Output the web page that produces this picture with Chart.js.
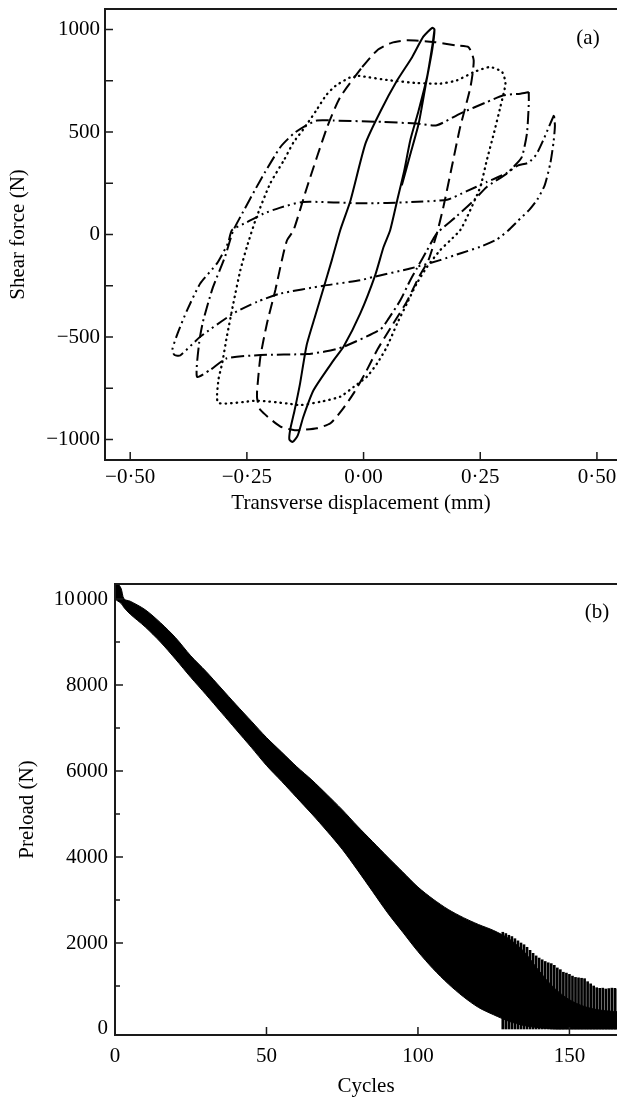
<!DOCTYPE html>
<html><head><meta charset="utf-8">
<script src="https://cdn.jsdelivr.net/npm/chart.js@4/dist/chart.umd.min.js"></script>
<style>
html,body{margin:0;padding:0;background:#fff;overflow:hidden;width:617px;height:1100px;}
#a{position:absolute;left:0;top:0;}
#b{position:absolute;left:0;top:540px;}
</style></head><body>
<canvas id="a" width="617" height="540"></canvas>
<canvas id="b" width="617" height="560"></canvas>
<script>
// ---------- Panel (a): hysteresis loops, [displacement mm, shear force N] ----------
const loopSolid = [[0.082,240],[0.100,390],[0.118,540],[0.134,740],[0.147,900],[0.152,1000],[0.147,1008],[0.128,965],[0.104,865],[0.072,752],[0.036,600],[0.004,443],[-0.028,166],[-0.050,21],[-0.068,-125],[-0.086,-263],[-0.104,-400],[-0.122,-540],[-0.136,-726],[-0.148,-860],[-0.157,-950],[-0.159,-1000],[-0.152,-1012],[-0.141,-980],[-0.129,-889],[-0.107,-759],[-0.064,-613],[-0.043,-548],[-0.007,-385],[0.025,-198],[0.043,-60],[0.057,21],[0.072,166],[0.087,310],[0.100,459],[0.118,605],[0.136,768],[0.148,931],[0.152,1000]];
const loopDashed = [[-0.003,817],[0.029,898],[0.060,935],[0.093,947],[0.150,939],[0.200,922],[0.225,914],[0.236,849],[0.229,719],[0.207,524],[0.189,329],[0.171,134],[0.157,5],[0.139,-125],[0.118,-210],[0.092,-330],[0.062,-440],[0.030,-560],[0.005,-670],[-0.020,-770],[-0.046,-856],[-0.071,-921],[-0.100,-945],[-0.136,-954],[-0.150,-954],[-0.178,-937],[-0.221,-856],[-0.228,-800],[-0.228,-759],[-0.221,-596],[-0.207,-434],[-0.189,-271],[-0.175,-125],[-0.164,-28],[-0.150,21],[-0.121,232],[-0.078,524],[-0.050,670],[-0.003,817]];
const loopDotted = [[-0.010,774],[0.057,752],[0.114,739],[0.164,736],[0.200,752],[0.236,792],[0.271,817],[0.297,792],[0.304,736],[0.293,622],[0.279,492],[0.264,362],[0.250,232],[0.222,86],[0.207,21],[0.186,-28],[0.164,-77],[0.136,-158],[0.114,-239],[0.093,-336],[0.072,-434],[0.050,-548],[0.029,-629],[0.007,-694],[-0.021,-743],[-0.050,-791],[-0.093,-816],[-0.136,-832],[-0.164,-824],[-0.228,-811],[-0.311,-821],[-0.311,-710],[-0.303,-629],[-0.293,-499],[-0.279,-336],[-0.264,-174],[-0.250,-60],[-0.230,80],[-0.200,249],[-0.170,365],[-0.150,450],[-0.130,510],[-0.100,610],[-0.080,680],[-0.060,725],[-0.030,765],[-0.010,774]];
const loopDashDot = [[0.354,695],[0.336,687],[0.300,679],[0.264,646],[0.207,590],[0.157,533],[0.114,541],[0.043,549],[-0.064,556],[-0.100,556],[-0.129,524],[-0.150,492],[-0.178,427],[-0.221,265],[-0.264,86],[-0.280,15],[-0.297,-110],[-0.323,-259],[-0.344,-424],[-0.352,-523],[-0.357,-694],[-0.329,-661],[-0.293,-604],[-0.221,-588],[-0.121,-583],[-0.080,-570],[-0.043,-548],[0.036,-463],[0.054,-409],[0.079,-320],[0.100,-223],[0.114,-166],[0.136,-77],[0.157,5],[0.200,90],[0.236,166],[0.264,232],[0.307,297],[0.321,329],[0.339,378],[0.350,492],[0.354,638],[0.354,695]];
const loopDashDotDot = [[0.408,582],[0.398,530],[0.385,460],[0.370,390],[0.353,350],[0.330,336],[0.307,300],[0.264,256],[0.220,210],[0.179,170],[0.100,158],[0.000,152],[-0.129,159],[-0.180,130],[-0.214,102],[-0.250,60],[-0.282,21],[-0.290,-40],[-0.314,-141],[-0.350,-239],[-0.378,-369],[-0.398,-480],[-0.410,-564],[-0.405,-588],[-0.393,-590],[-0.350,-499],[-0.279,-385],[-0.228,-328],[-0.178,-288],[-0.086,-250],[-0.007,-223],[0.021,-207],[0.100,-166],[0.164,-125],[0.210,-90],[0.250,-60],[0.285,-25],[0.310,20],[0.330,65],[0.355,120],[0.372,170],[0.388,240],[0.400,346],[0.407,450],[0.410,530],[0.408,582]];
const xTicksA = [-0.5,-0.25,0,0.25,0.5];
const yTicksA = [-1000,-750,-500,-250,0,250,500,750,1000];
const yLabelStepA = 500;

// ---------- Panel (b): preload decay ----------
const cycles     = [0,1,2,3,5,10,15,20,25,30,35,40,45,50,55,60,65,70,75,80,85,90,95,100,105,110,115,120,125,130,135,140,145,150,155,160,166];
const bandTop    = [10380,10350,10250,10000,9950,9750,9450,9100,8680,8320,7930,7540,7160,6780,6440,6100,5790,5450,5100,4720,4360,4000,3650,3300,3020,2780,2590,2430,2290,2100,1800,1350,950,680,520,440,400];
const bandBottom = [10000,9950,9900,9800,9650,9350,9000,8600,8180,7780,7370,6960,6550,6130,5760,5380,5000,4600,4180,3700,3200,2700,2250,1800,1400,1050,750,500,330,180,80,30,0,0,0,0,0];
const toothCycles = [128,129,130,131,132,133,134,135,136,137,138,139,140,141,142,143,144,145,146,147,148,149,150,151,152,153,154,155,156,157,158,159,160,161,162,163,164,165,166];
const toothPeaks  = [2250,2220,2180,2150,2100,2050,2000,1960,1900,1830,1760,1700,1650,1610,1570,1540,1520,1480,1420,1380,1320,1300,1270,1230,1200,1190,1180,1170,1100,1050,1000,960,945,950,930,940,950,945,930];
const xTicksB = [0,50,100,150];
const yTicksB = [0,1000,2000,3000,4000,5000,6000,7000,8000,9000,10000];
const yLabelStepB = 2000;

const FONT = 'Liberation Serif, "Times New Roman", serif';
const INK = '#000';

function nearMult(v, m) { v = Number(v); return Math.abs(v / m - Math.round(v / m)) < 1e-6; }
function fmtYA(v) { if (!nearMult(v, yLabelStepA)) return ''; v = Math.round(v); return v < 0 ? '\u2212' + Math.abs(v) : String(v); }
function fmtYB(v) { if (!nearMult(v, yLabelStepB)) return ''; v = Math.round(v); return v >= 10000 ? '10\u200A000' : String(v); }
function fmtA(v) {
  v = Number(v);
  if (Math.abs(v) < 1e-9) return '0·00';
  return (v < 0 ? '\u2212' : '') + Math.abs(v).toFixed(2).replace('.', '·');
}

// frame and inward tick marks, placed from the chart's own scales
const frame = {
  id: 'frame',
  afterDatasetsDraw(chart, args, o) {
    const {ctx, chartArea: a} = chart;
    const xs = chart.scales.x, ys = chart.scales.y;
    ctx.save();
    ctx.strokeStyle = '#1a1a1a';
    ctx.lineWidth = 2;
    ctx.lineCap = 'butt';
    ctx.beginPath();
    ctx.moveTo(a.right + 5, a.top); ctx.lineTo(a.left, a.top);
    ctx.lineTo(a.left, a.bottom); ctx.lineTo(a.right + 5, a.bottom);
    ctx.stroke();
    ctx.lineWidth = 1.5;
    ctx.beginPath();
    ys.ticks.forEach(t => {
      if (o.skipZeroY && t.value === 0) return;
      const p = ys.getPixelForValue(t.value);
      const len = nearMult(t.value, o.yMajor) ? o.majorLen : o.minorLen;
      ctx.moveTo(a.left, p); ctx.lineTo(a.left + len, p);
    });
    xs.ticks.forEach(t => {
      if (o.skipZeroX && Math.abs(t.value) < 1e-9) return;
      const p = xs.getPixelForValue(t.value);
      ctx.moveTo(p, a.bottom); ctx.lineTo(p, a.bottom - o.majorLen);
    });
    ctx.stroke();
    ctx.fillStyle = INK;
    ctx.font = '21px ' + FONT;
    ctx.textAlign = 'center';
    ctx.textBaseline = 'middle';
    ctx.fillText(o.label, a.right + o.labelDX, a.top + o.labelDY);
    ctx.restore();
  }
};

function zeroPad(s) { s.paddingTop = 0; s.paddingBottom = 0; s.paddingLeft = 0; s.paddingRight = 0; }
function setTicks(list) { return s => { s.ticks = list.map(v => ({value: v})); }; }
function lineDs(pts, dash, width, cap) {
  return {
    data: pts.map(p => ({x: p[0], y: p[1]})),
    borderColor: INK, borderWidth: width, borderDash: dash,
    borderCapStyle: cap || 'butt', borderJoinStyle: 'round',
    pointRadius: 0, fill: false, tension: 0.2
  };
}
const tickFont = {family: FONT, size: 21};

new Chart(document.getElementById('a'), {
  type: 'line',
  data: { datasets: [
    lineDs(loopDashDotDot, [12,4,2,4,2,4], 2),
    lineDs(loopDashDot, [13,4,2,4], 2),
    lineDs(loopDotted, [0.5,5], 2.3, 'round'),
    lineDs(loopDashed, [12,6], 2),
    lineDs(loopSolid, [], 2)
  ]},
  options: {
    responsive: false, animation: false, devicePixelRatio: 1,
    layout: {padding: {top: 9, right: 0, bottom: 0, left: 0}},
    plugins: {legend: {display: false}, tooltip: {enabled: false},
      frame: {yMajor: 250, majorLen: 8, minorLen: 8, label: '(a)', labelDX: -29, labelDY: 29}},
    scales: {
      x: {type: 'linear', min: -0.554, max: 0.543,
        afterFit: s => { s.height = 80; zeroPad(s); },
        afterBuildTicks: setTicks(xTicksA),
        grid: {display: false, drawTicks: false}, border: {display: false},
        ticks: {autoSkip: false, maxRotation: 0, padding: 5, color: INK, font: tickFont, callback: v => fmtA(v)},
        title: {display: true, text: 'Transverse displacement (mm)', color: INK, font: tickFont, padding: {top: 0, bottom: 24}}},
      y: {type: 'linear', min: -1100, max: 1100,
        afterFit: s => { s.width = 105; zeroPad(s); },
        afterBuildTicks: setTicks(yTicksA),
        grid: {display: false, drawTicks: false}, border: {display: false},
        ticks: {autoSkip: false, padding: 5, color: INK, font: tickFont, callback: v => fmtYA(v)},
        title: {display: true, text: 'Shear force (N)', color: INK, font: tickFont, padding: {top: 6, bottom: 0}}}
    }
  },
  plugins: [frame]
});

new Chart(document.getElementById('b'), {
  type: 'line',
  data: { datasets: [
    {data: cycles.map((c, i) => ({x: c, y: bandBottom[i]})), borderColor: INK, borderWidth: 1, pointRadius: 0, fill: false, tension: 0.3},
    {data: cycles.map((c, i) => ({x: c, y: bandTop[i]})), borderColor: INK, borderWidth: 1, pointRadius: 0, fill: '-1', backgroundColor: INK, tension: 0.3},
    {type: 'bar', data: toothCycles.map((c, i) => ({x: c, y: [0, toothPeaks[i]]})), backgroundColor: INK, barThickness: 2, grouped: false}
  ]},
  options: {
    responsive: false, animation: false, devicePixelRatio: 1,
    layout: {padding: {top: 44, right: 0, bottom: 0, left: 0}},
    plugins: {legend: {display: false}, tooltip: {enabled: false},
      frame: {yMajor: 2000, majorLen: 8, minorLen: 5, skipZeroY: true, skipZeroX: true, label: '(b)', labelDX: -20, labelDY: 28}},
    scales: {
      x: {type: 'linear', min: 0, max: 165.7, offset: false,
        afterFit: s => { s.height = 65; zeroPad(s); },
        afterBuildTicks: setTicks(xTicksB),
        grid: {display: false, drawTicks: false, offset: false}, border: {display: false},
        ticks: {autoSkip: false, maxRotation: 0, padding: 9, color: INK, font: tickFont},
        title: {display: true, text: 'Cycles', color: INK, font: tickFont, padding: {top: 0, bottom: 1}}},
      y: {type: 'linear', min: -140, max: 10350,
        afterFit: s => { s.width = 115; zeroPad(s); },
        afterBuildTicks: setTicks(yTicksB),
        grid: {display: false, drawTicks: false}, border: {display: false},
        ticks: {autoSkip: false, padding: 7, color: INK, font: tickFont, callback: v => fmtYB(v)},
        title: {display: true, text: 'Preload (N)', color: INK, font: tickFont, padding: {top: 15, bottom: 0}}}
    }
  },
  plugins: [frame]
});
</script>
</body></html>
